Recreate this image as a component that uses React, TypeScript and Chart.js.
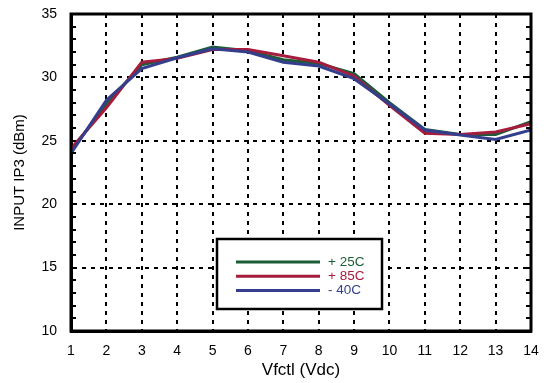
import React, { useEffect, useRef } from "react";
import { Chart, registerables } from "chart.js";

Chart.register(...registerables);

// Control voltage (Vdc)
const vfctl = [1, 2, 3, 4, 5, 6, 7, 8, 9, 10, 11, 12, 13, 14];

// Input IP3 (dBm) per temperature
const ip3Plus25 = [24.2, 27.9, 31.0, 31.6, 32.4, 32.1, 31.4, 31.1, 30.3, 28.0, 25.9, 25.5, 25.5, 26.5];
const ip3Plus85 = [24.4, 27.6, 31.2, 31.5, 32.2, 32.2, 31.7, 31.2, 30.1, 27.8, 25.6, 25.5, 25.7, 26.35];
const ip3Minus40 = [24.0, 28.2, 30.7, 31.55, 32.25, 32.0, 31.2, 30.9, 29.9, 27.9, 25.85, 25.45, 25.1, 25.85];

const seriesLabels = ["+ 25C", "+ 85C", "- 40C"];
const seriesColors = ["#1c5d38", "#a51c3c", "#333f8c"];

const yTicks = [10, 15, 20, 25, 30, 35];

const FONT = "'Liberation Sans', Arial, Helvetica, sans-serif";

// Frame around the plot, inward minor ticks, and the in-plot legend box
const framePlugin = {
  id: "frame",
  afterDraw(chart: any) {
    const { ctx, chartArea: a, scales } = chart;
    const y = scales.y;
    ctx.save();
    // minor ticks every 1 dBm on left and right edges
    ctx.strokeStyle = "#000";
    ctx.lineWidth = 2;
    for (let v = y.min; v <= y.max; v += 1) {
      const py = Math.round(y.getPixelForValue(v));
      ctx.beginPath();
      ctx.moveTo(a.left, py);
      ctx.lineTo(a.left + 5, py);
      ctx.moveTo(a.right, py);
      ctx.lineTo(a.right - 5, py);
      ctx.stroke();
    }
    ctx.lineWidth = 3;
    ctx.strokeRect(a.left, a.top, a.right - a.left, a.bottom - a.top);

    // legend
    const bx = a.left + 146;
    const by = a.top + 225;
    const bw = 165;
    const bh = 70;
    ctx.fillStyle = "#fff";
    ctx.fillRect(bx, by, bw, bh);
    ctx.lineWidth = 2.5;
    ctx.strokeStyle = "#000";
    ctx.strokeRect(bx, by, bw, bh);
    ctx.font = `13.5px ${FONT}`;
    ctx.textBaseline = "middle";
    ctx.textAlign = "left";
    chart.data.datasets.forEach((ds: any, i: number) => {
      const ly = by + 23 + i * 14.3;
      ctx.strokeStyle = ds.borderColor;
      ctx.lineWidth = 3;
      ctx.beginPath();
      ctx.moveTo(bx + 19, ly);
      ctx.lineTo(bx + 103, ly);
      ctx.stroke();
      ctx.fillStyle = ds.borderColor;
      ctx.fillText(ds.label, bx + 111, ly);
    });
    ctx.restore();
  },
};

export default function App() {
  const canvasRef = useRef<HTMLCanvasElement | null>(null);

  useEffect(() => {
    const canvas = canvasRef.current;
    if (!canvas) return;
    const series = [ip3Plus25, ip3Plus85, ip3Minus40];
    const chart = new Chart(canvas, {
      type: "line",
      data: {
        datasets: series.map((vals, i) => ({
          label: seriesLabels[i],
          data: vfctl.map((x, k) => ({ x, y: vals[k] })),
          borderColor: seriesColors[i],
          backgroundColor: seriesColors[i],
          borderWidth: 3,
          pointRadius: 0,
          tension: 0,
          order: 3 - i,
        })),
      },
      options: {
        responsive: false,
        animation: false,
        devicePixelRatio: 1,
        layout: { padding: { left: 0, right: 15, top: 14, bottom: 0 } },
        plugins: {
          legend: { display: false },
          tooltip: { enabled: false },
        },
        scales: {
          x: {
            type: "linear",
            min: 1,
            max: 14,
            afterFit: (s: any) => {
              s.height = 52;
              s.paddingLeft = 0;
              s.paddingRight = 0;
            },
            ticks: {
              stepSize: 1,
              padding: 12,
              color: "#000",
              font: { family: FONT, size: 14 },
            },
            grid: {
              color: "#000",
              lineWidth: 2,
              drawTicks: false,
            },
            border: { display: true, width: 3, color: "#000", dash: [4, 5] },
            title: {
              display: true,
              text: "Vfctl (Vdc)",
              color: "#000",
              font: { family: FONT, size: 17 },
              padding: { top: 0, bottom: 2 },
            },
          },
          y: {
            type: "linear",
            min: 10,
            max: 35,
            afterFit: (s: any) => {
              s.width = 71;
              s.paddingTop = 0;
              s.paddingBottom = 0;
            },
            afterBuildTicks: (s: any) => {
              s.ticks = yTicks.map((v) => ({ value: v }));
            },
            ticks: {
              padding: 14,
              color: "#000",
              font: { family: FONT, size: 14 },
            },
            grid: {
              color: "#000",
              lineWidth: 2,
              drawTicks: false,
            },
            border: { display: true, width: 3, color: "#000", dash: [4, 5] },
            title: {
              display: true,
              text: "INPUT IP3 (dBm)",
              color: "#000",
              font: { family: FONT, size: 15 },
              padding: { top: 11, bottom: 0 },
            },
          },
        },
      },
      plugins: [framePlugin],
    });
    return () => chart.destroy();
  }, []);

  return (
    <div style={{ position: "absolute", left: 0, top: 0, width: 546, height: 383, background: "#fff" }}>
      <canvas ref={canvasRef} width={546} height={383} style={{ display: "block" }} />
    </div>
  );
}
